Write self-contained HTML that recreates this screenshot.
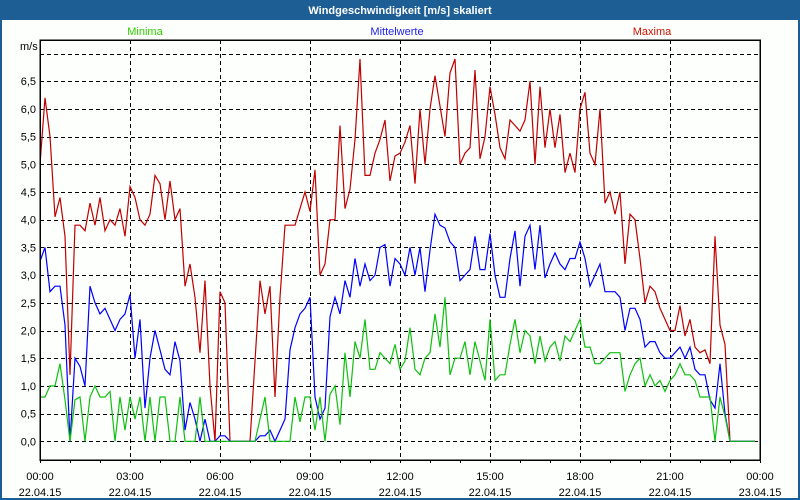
<!DOCTYPE html>
<html><head><meta charset="utf-8"><style>
html,body{margin:0;padding:0;background:#fff}
#wrap{position:relative;width:800px;height:500px;overflow:hidden;font-family:"Liberation Sans","DejaVu Sans",sans-serif}
</style></head><body>
<div id="wrap">
<svg id="chart" width="800" height="500" xmlns="http://www.w3.org/2000/svg">
<rect x="0" y="0" width="800" height="500" fill="#1d5f95"/>
<rect x="2" y="20" width="796" height="478" fill="#fdfffd"/>
<text x="400" y="14" text-anchor="middle" font-size="11" font-weight="bold" fill="#fff">Windgeschwindigkeit [m/s] skaliert</text>
<text x="145" y="35" text-anchor="middle" font-size="11" fill="#33cc00">Minima</text>
<text x="397" y="35" text-anchor="middle" font-size="11" fill="#2222ee">Mittelwerte</text>
<text x="652" y="35" text-anchor="middle" font-size="11" fill="#cc1100">Maxima</text>
<text x="20" y="50" font-size="11" fill="#000">m/s</text>
<g id="grid"></g><g id="series"></g><g id="axes"></g>
</svg>
</div>
<script>
const yTicks = ["0,0","0,5","1,0","1,5","2,0","2,5","3,0","3,5","4,0","4,5","5,0","5,5","6,0","6,5"];
const yTickValues = [0,0.5,1,1.5,2,2.5,3,3.5,4,4.5,5,5.5,6,6.5];
const xTimeLabels = ["00:00","03:00","06:00","09:00","12:00","15:00","18:00","21:00","00:00"];
const xDateLabels = ["22.04.15","22.04.15","22.04.15","22.04.15","22.04.15","22.04.15","22.04.15","22.04.15","23.04.15"];
const xTickHours = [0,3,6,9,12,15,18,21,24];
const sampleMinutes = 10;
const maxima = [5.0,6.2,5.5,4.05,4.4,3.7,1.2,3.9,3.9,3.8,4.3,3.9,4.4,3.8,4.0,3.9,4.2,3.7,4.6,4.4,4.0,3.9,4.1,4.8,4.65,4.0,4.7,4.0,4.2,2.8,3.2,2.6,1.6,2.9,1.0,0.0,
2.7,2.5,0,0,0,0,0,1.45,2.9,2.3,2.8,0.8,2.6,3.9,3.9,3.9,4.2,4.5,4.15,4.9,3.0,3.2,4.0,4.0,5.7,4.2,4.55,5.45,6.9,4.8,4.8,5.2,5.45,5.8,4.7,5.15,
5.2,5.4,5.7,4.65,6.0,5.0,6.0,6.6,6.05,5.5,6.65,6.9,5.0,5.2,5.3,6.7,5.1,5.5,6.4,5.9,5.3,5.1,5.8,5.7,5.6,5.8,6.5,5.0,6.4,5.3,6.0,5.3,5.9,4.85,5.2,
4.85,6.0,6.3,5.2,5.0,6.0,4.3,4.5,4.1,4.5,3.2,4.1,4.0,3.3,2.5,2.8,2.7,2.4,2.2,2.0,2.0,2.45,1.9,2.2,1.7,1.6,1.65,1.4,3.7,2.1,1.75,0,0,0,0,0,0];
const mittelwerte = [3.25,3.5,2.7,2.8,2.8,2.1,0.0,1.5,1.35,1.0,2.8,2.5,2.3,2.4,2.2,2.0,2.2,2.3,2.65,1.5,2.2,0.6,1.5,2.0,1.65,1.3,1.2,1.8,1.45,0.2,0.7,0.4,0.0,0.4,0.0,0.0,
0.1,0.1,0,0,0,0,0,0,0.1,0.1,0.2,0,0.2,0.4,1.65,2.05,2.3,2.4,2.6,0.8,0.4,0.6,2.25,2.6,2.3,2.9,2.6,3.3,2.8,3.2,2.9,3.0,3.5,3.55,2.8,3.3,
3.2,3.0,3.5,3.0,3.5,2.7,3.45,4.1,3.9,3.85,3.6,3.5,2.9,3.0,3.1,3.7,3.1,3.1,3.75,3.0,2.6,2.6,3.3,3.8,2.8,3.7,3.9,3.1,3.9,2.95,3.2,3.4,3.2,3.1,3.3,
3.3,3.6,3.3,2.8,3.0,3.2,2.7,2.7,2.7,2.6,2.0,2.4,2.4,2.2,1.7,1.8,1.8,1.6,1.5,1.5,1.6,1.7,1.5,1.7,1.3,1.2,1.2,0.75,0.6,1.4,0.5,0,0,0,0,0,0];
const minima = [0.8,0.8,1.0,1.0,1.4,0.75,0,0.75,0.8,0,0.8,1.0,0.8,0.8,0.9,0,0.8,0.2,0.8,0.4,0.8,0,0.8,0,0.8,0.8,0,0,0.8,0,0,0,0.8,0,0,0,
0,0,0,0,0,0,0,0,0.4,0.8,0,0,0,0,0,0.8,0.35,0.8,0.8,0.2,0.8,0,0.85,1.0,0.3,1.6,0.8,1.8,1.5,2.2,1.3,1.3,1.6,1.5,1.4,1.75,
1.3,1.45,2.05,1.3,1.2,1.5,1.6,2.3,1.7,2.6,1.2,1.5,1.5,1.8,1.2,1.8,1.45,1.1,2.2,1.1,1.2,1.2,1.75,2.2,1.6,2.0,1.9,1.4,1.9,1.45,1.7,1.8,1.45,1.9,1.8,
2.0,2.2,1.7,1.7,1.4,1.4,1.5,1.6,1.6,1.6,0.9,1.2,1.4,1.5,1.0,1.2,1.0,1.1,0.9,1.1,1.2,1.4,1.2,1.2,1.1,0.8,0.8,0.8,0,0.8,0.45,0,0,0,0,0,0];

const NS = "http://www.w3.org/2000/svg";
const L = 40, R = 760, T = 40, B = 460;
const y0 = 441.3, perUnit = 55.4;
function xScale(minutes){ return L + minutes / 60 * 30; }
function yScale(v){ return y0 - v * perUnit; }
function mk(tag, attrs, parent){ const e = document.createElementNS(NS, tag); for (const k in attrs) e.setAttribute(k, attrs[k]); parent.appendChild(e); return e; }

const grid = document.getElementById('grid');
const axes = document.getElementById('axes');
const series = document.getElementById('series');

const gridVals = yTickValues.concat([7]);
gridVals.forEach((v) => {
  const ln = mk('line', {x1: L, x2: R, y1: Math.round(yScale(v)) + 0.5, y2: Math.round(yScale(v)) + 0.5, stroke: '#000', 'stroke-width': 1, 'stroke-dasharray': '4,3'}, grid);
  
  
});
yTicks.forEach((lab, i) => {
  const t = mk('text', {x: 36, y: yScale(yTickValues[i]) + 4, 'text-anchor': 'end', 'font-size': 11, fill: '#000'}, axes);
  t.textContent = lab;
  
  
});
xTickHours.forEach((h, i) => {
  const x = xScale(h * 60);
  if (h > 0 && h < 24) {
    const ln = mk('line', {x1: x + 0.5, x2: x + 0.5, y1: T, y2: B, stroke: '#000', 'stroke-width': 1, 'stroke-dasharray': '4,3'}, grid);
    
    
  }
  const t1 = mk('text', {x: x, y: 480, 'text-anchor': 'middle', 'font-size': 11, fill: '#000'}, axes);
  t1.textContent = xTimeLabels[i];
  
  
  const t2 = mk('text', {x: x, y: 496, 'text-anchor': 'middle', 'font-size': 11, fill: '#000'}, axes);
  t2.textContent = xDateLabels[i];
  
  
});
for (let h = 0; h <= 24; h++) {
  const x = xScale(h * 60);
  const tk = mk('line', {x1: x + 0.5, x2: x + 0.5, y1: B, y2: B + 3, stroke: '#000', 'stroke-width': 1}, axes);
  
  
}
const box = mk('rect', {x: L, y: T, width: R - L, height: B - T, fill: 'none', stroke: '#000', 'stroke-width': 1.5, 'shape-rendering': 'crispEdges'}, axes);



function drawSeries(vals, color, name){
  const pts = vals.map((v, i) => xScale(i * sampleMinutes).toFixed(1) + ',' + yScale(v).toFixed(1)).join(' ');
  const pl = mk('polyline', {points: pts, fill: 'none', stroke: color, 'stroke-width': 1.2, 'stroke-linejoin': 'miter'}, series);
  
  
}
drawSeries(maxima, '#c00000', 'maxima-line');
drawSeries(mittelwerte, '#0000ff', 'mittelwerte-line');
drawSeries(minima, '#10c010', 'minima-line');
</script>
</body></html>
